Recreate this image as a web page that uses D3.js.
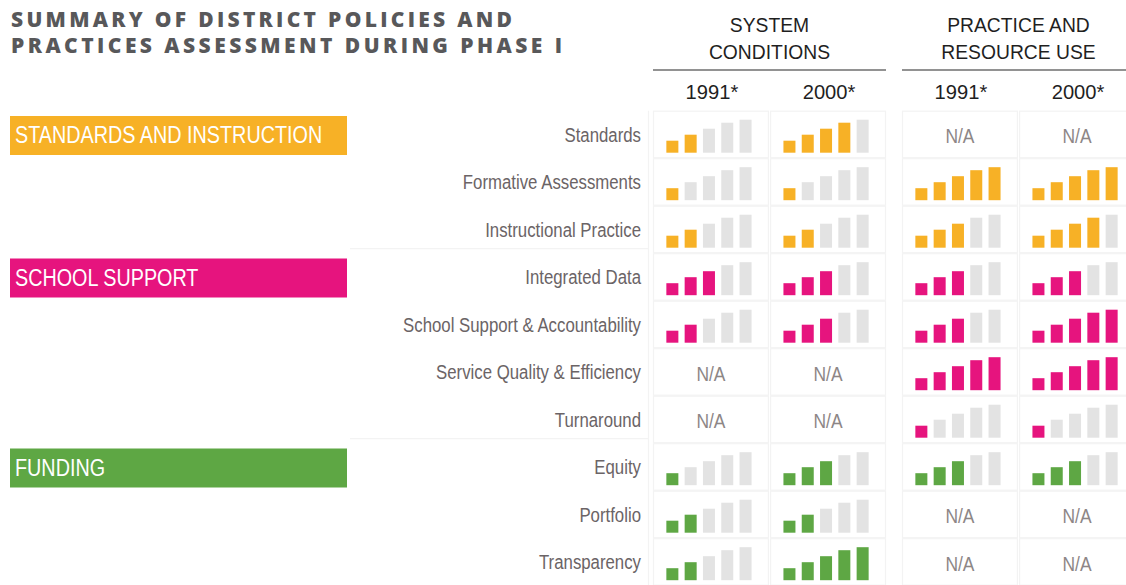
<!DOCTYPE html>
<html>
<head>
<meta charset="utf-8">
<script src="https://cdn.jsdelivr.net/npm/d3@7"></script>
<style>
  html, body { margin: 0; padding: 0; background: #ffffff; }
  svg { display: block; }
  text { font-family: "Liberation Sans", Arial, sans-serif; }
</style>
</head>
<body>
<svg id="chart" width="1126" height="585"></svg>
<script>
// ---------- DATA ----------
const titleLines = ["SUMMARY OF DISTRICT POLICIES AND", "PRACTICES ASSESSMENT DURING PHASE I"];
const sections = ["SYSTEM CONDITIONS", "PRACTICE AND RESOURCE USE"];
const sectionLines = [["SYSTEM", "CONDITIONS"], ["PRACTICE AND", "RESOURCE USE"]];
const years = ["1991*", "2000*"];

const rowLabels = [
  "Standards", "Formative Assessments", "Instructional Practice",
  "Integrated Data", "School Support & Accountability", "Service Quality & Efficiency", "Turnaround",
  "Equity", "Portfolio", "Transparency"
];
const groupNames = ["STANDARDS AND INSTRUCTION", "SCHOOL SUPPORT", "FUNDING"];
const groupColors = ["#f7b126", "#e6147e", "#5ea744"];
const rowGroups = [0, 0, 0, 1, 1, 1, 1, 2, 2, 2];

// number of filled bars out of 5 (null = N/A)
const systemConditions1991 = [2, 1, 2, 3, 2, null, null, 1, 2, 2];
const systemConditions2000 = [4, 1, 2, 3, 3, null, null, 3, 2, 5];
const practiceResource1991 = [null, 5, 3, 3, 3, 5, 1, 3, null, null];
const practiceResource2000 = [null, 5, 4, 3, 5, 5, 1, 3, null, null];
const levels = [1, 2, 3, 4, 5];

const columns = [
  { section: sections[0], year: years[0], values: systemConditions1991 },
  { section: sections[0], year: years[1], values: systemConditions2000 },
  { section: sections[1], year: years[0], values: practiceResource1991 },
  { section: sections[1], year: years[1], values: practiceResource2000 }
];

// ---------- SCALES ----------
const svg = d3.select("#chart");
const emptyColor = "#e3e3e3";

const y = d3.scaleBand().domain(rowLabels).range([110.7, 585.7]).padding(0);
const xSection = d3.scaleBand().domain(sections).range([653, 1135]).paddingInner(16 / 249);
const xYear = d3.scaleBand().domain(years).range([0, xSection.bandwidth()]).paddingInner(0.01);
const xLevel = d3.scaleBand().domain(levels).range([0, 85.2]).paddingInner(0.344).paddingOuter(0);
const hLevel = d3.scaleOrdinal().domain(levels).range([12, 18, 24, 30, 33]);

const colX = c => xSection(c.section) + xYear(c.year);
const barBase = r => y(r) + 42;

// ---------- TITLE ----------
svg.selectAll("text.title").data(titleLines).join("text")
  .attr("class", "title")
  .attr("x", 11)
  .attr("y", (d, i) => 26.8 + i * 26)
  .attr("textLength", (d, i) => i === 0 ? 501 : 551)
  .attr("lengthAdjust", "spacing")
  .style("font-family", "'Open Sans', Lato, sans-serif")
  .style("font-weight", 800)
  .style("font-size", "21px")
  .style("fill", "#58585a")
  .text(d => d);

// ---------- CELL BACKGROUNDS ----------
const cells = [];
columns.forEach((c, ci) => rowLabels.forEach((r, ri) => cells.push({ c, ci, r, ri, v: c.values[ri] })));

svg.append("g").selectAll("rect").data(cells).join("rect")
  .attr("x", d => colX(d.c) + 0.5)
  .attr("y", d => y(d.r) + 0.5)
  .attr("width", xYear.bandwidth() - 1)
  .attr("height", y.bandwidth() - 1)
  .attr("fill", "#ffffff")
  .attr("stroke", "#f3f3f3")
  .attr("stroke-width", 1.2);

// faint separators in label column
svg.append("line")
  .attr("x1", 648.5).attr("x2", 648.5)
  .attr("y1", y.range()[0]).attr("y2", 585)
  .attr("stroke", "#f3f3f3").attr("stroke-width", 1.2);
const groupStarts = groupNames.map((g, gi) => rowGroups.indexOf(gi));
svg.selectAll("line.gsep").data(groupStarts.slice(1)).join("line")
  .attr("class", "gsep")
  .attr("x1", 350).attr("x2", 648)
  .attr("y1", d => y(rowLabels[d]) - 4.5).attr("y2", d => y(rowLabels[d]) - 4.5)
  .attr("stroke", "#f3f3f3").attr("stroke-width", 1.2);

// ---------- HEADERS ----------
const head = svg.append("g");
sections.forEach((s, si) => {
  const cx = xSection(s) + xSection.bandwidth() / 2;
  sectionLines[si].forEach((line, li) => {
    head.append("text")
      .attr("transform", `translate(${cx},${31.5 + li * 27.8}) scale(0.92,1)`)
      .attr("text-anchor", "middle")
      .style("font-size", "21px")
      .style("fill", "#1f1f1f")
      .text(line);
  });
  head.append("line")
    .attr("x1", xSection(s)).attr("x2", xSection(s) + xSection.bandwidth())
    .attr("y1", 70).attr("y2", 70)
    .attr("stroke", "#6e6e6e").attr("stroke-width", 1.6);
  years.forEach(yr => {
    head.append("text")
      .attr("transform", `translate(${xSection(s) + xYear(yr) + xYear.bandwidth() / 2 + 1},99) scale(0.96,1)`)
      .attr("text-anchor", "middle")
      .style("font-size", "21px")
      .style("fill", "#1f1f1f")
      .text(yr);
  });
});

// ---------- GROUP LABELS ----------
const gl = svg.append("g").selectAll("g").data(groupNames).join("g");
gl.append("rect")
  .attr("x", 10)
  .attr("y", (d, i) => y(rowLabels[groupStarts[i]]) + 5.3)
  .attr("width", 337)
  .attr("height", 39)
  .attr("fill", (d, i) => groupColors[i]);
gl.append("text")
  .attr("transform", (d, i) => `translate(15,${y(rowLabels[groupStarts[i]]) + 32.6}) scale(0.86,1)`)
  .style("font-size", "23px")
  .style("fill", "#ffffff")
  .text(d => d);

// ---------- ROW LABELS ----------
svg.append("g").selectAll("text").data(rowLabels).join("text")
  .attr("transform", d => `translate(641,${y(d) + 31}) scale(0.8,1)`)
  .attr("text-anchor", "end")
  .style("font-size", "21px")
  .style("fill", "#6b6466")
  .text(d => d);

// ---------- BARS / N/A ----------
const cellG = svg.append("g").selectAll("g").data(cells).join("g")
  .attr("transform", d => `translate(${colX(d.c) + xYear.bandwidth() / 2 - 2 - 85.2 / 2},${barBase(d.r)})`);

cellG.filter(d => d.v === null).append("text")
  .attr("transform", `translate(${85.2 / 2 + 2},-9.5) scale(0.83,1)`)
  .attr("text-anchor", "middle")
  .style("font-size", "21px")
  .style("fill", "#8d8686")
  .text("N/A");

cellG.filter(d => d.v !== null).selectAll("rect")
  .data(d => levels.map(l => ({ l, filled: l <= d.v, color: groupColors[rowGroups[d.ri]] })))
  .join("rect")
  .attr("x", d => xLevel(d.l))
  .attr("y", d => -hLevel(d.l))
  .attr("width", xLevel.bandwidth())
  .attr("height", d => hLevel(d.l))
  .attr("fill", d => d.filled ? d.color : emptyColor);
</script>
</body>
</html>
